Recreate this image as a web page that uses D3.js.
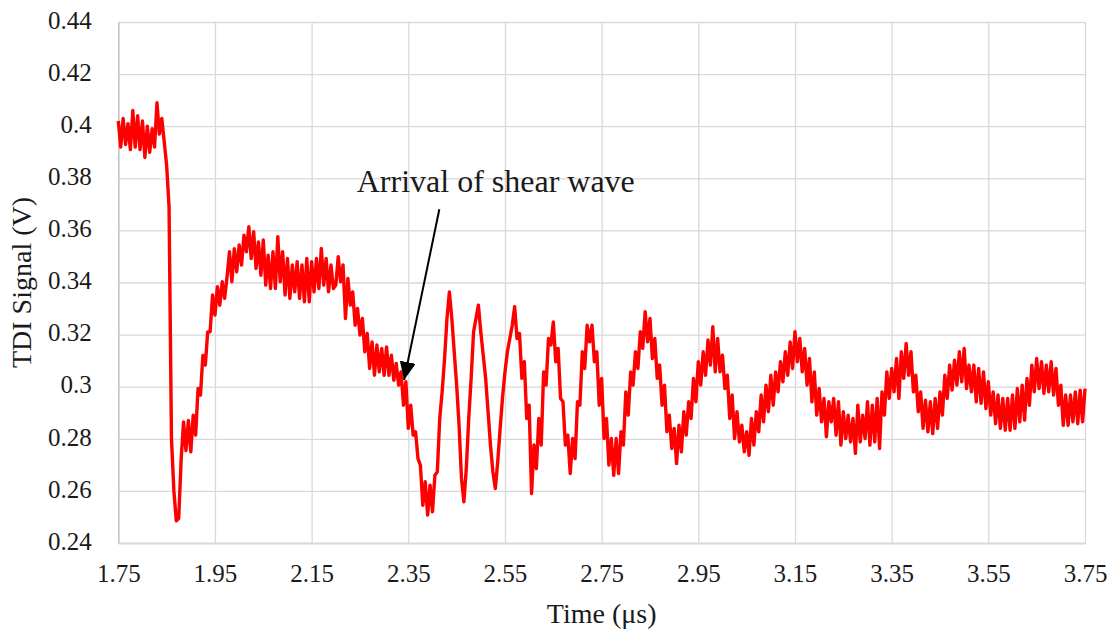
<!DOCTYPE html>
<html>
<head>
<meta charset="utf-8">
<script src="https://cdn.jsdelivr.net/npm/d3@7/dist/d3.min.js"></script>
</head>
<body style="margin:0">
<script>
// TDI signal vs time (every 0.005 us)
var timeUs = [
  1.750,1.755,1.760,1.765,1.770,1.775,1.780,1.785,1.790,1.795,
  1.800,1.805,1.810,1.815,1.820,1.825,1.830,1.835,1.840,1.845,
  1.850,1.855,1.860,1.865,1.870,1.875,1.880,1.885,1.890,1.895,
  1.900,1.905,1.910,1.915,1.920,1.925,1.930,1.935,1.940,1.945,
  1.950,1.955,1.960,1.965,1.970,1.975,1.980,1.985,1.990,1.995,
  2.000,2.005,2.010,2.015,2.020,2.025,2.030,2.035,2.040,2.045,
  2.050,2.055,2.060,2.065,2.070,2.075,2.080,2.085,2.090,2.095,
  2.100,2.105,2.110,2.115,2.120,2.125,2.130,2.135,2.140,2.145,
  2.150,2.155,2.160,2.165,2.170,2.175,2.180,2.185,2.190,2.195,
  2.200,2.205,2.210,2.215,2.220,2.225,2.230,2.235,2.240,2.245,
  2.250,2.255,2.260,2.265,2.270,2.275,2.280,2.285,2.290,2.295,
  2.300,2.305,2.310,2.315,2.320,2.325,2.330,2.335,2.340,2.345,
  2.350,2.355,2.360,2.365,2.370,2.375,2.380,2.385,2.390,2.395,
  2.400,2.405,2.410,2.415,2.420,2.425,2.430,2.435,2.440,2.445,
  2.450,2.455,2.460,2.465,2.470,2.475,2.480,2.485,2.490,2.495,
  2.500,2.505,2.510,2.515,2.520,2.525,2.530,2.535,2.540,2.545,
  2.550,2.555,2.560,2.565,2.570,2.575,2.580,2.585,2.590,2.595,
  2.600,2.605,2.610,2.615,2.620,2.625,2.630,2.635,2.640,2.645,
  2.650,2.655,2.660,2.665,2.670,2.675,2.680,2.685,2.690,2.695,
  2.700,2.705,2.710,2.715,2.720,2.725,2.730,2.735,2.740,2.745,
  2.750,2.755,2.760,2.765,2.770,2.775,2.780,2.785,2.790,2.795,
  2.800,2.805,2.810,2.815,2.820,2.825,2.830,2.835,2.840,2.845,
  2.850,2.855,2.860,2.865,2.870,2.875,2.880,2.885,2.890,2.895,
  2.900,2.905,2.910,2.915,2.920,2.925,2.930,2.935,2.940,2.945,
  2.950,2.955,2.960,2.965,2.970,2.975,2.980,2.985,2.990,2.995,
  3.000,3.005,3.010,3.015,3.020,3.025,3.030,3.035,3.040,3.045,
  3.050,3.055,3.060,3.065,3.070,3.075,3.080,3.085,3.090,3.095,
  3.100,3.105,3.110,3.115,3.120,3.125,3.130,3.135,3.140,3.145,
  3.150,3.155,3.160,3.165,3.170,3.175,3.180,3.185,3.190,3.195,
  3.200,3.205,3.210,3.215,3.220,3.225,3.230,3.235,3.240,3.245,
  3.250,3.255,3.260,3.265,3.270,3.275,3.280,3.285,3.290,3.295,
  3.300,3.305,3.310,3.315,3.320,3.325,3.330,3.335,3.340,3.345,
  3.350,3.355,3.360,3.365,3.370,3.375,3.380,3.385,3.390,3.395,
  3.400,3.405,3.410,3.415,3.420,3.425,3.430,3.435,3.440,3.445,
  3.450,3.455,3.460,3.465,3.470,3.475,3.480,3.485,3.490,3.495,
  3.500,3.505,3.510,3.515,3.520,3.525,3.530,3.535,3.540,3.545,
  3.550,3.555,3.560,3.565,3.570,3.575,3.580,3.585,3.590,3.595,
  3.600,3.605,3.610,3.615,3.620,3.625,3.630,3.635,3.640,3.645,
  3.650,3.655,3.660,3.665,3.670,3.675,3.680,3.685,3.690,3.695,
  3.700,3.705,3.710,3.715,3.720,3.725,3.730,3.735,3.740,3.745,
  3.750
];

var signalV = [
  0.4020,0.3920,0.4030,0.3930,0.4010,0.3910,0.4060,0.3920,0.4040,0.3910,
  0.4020,0.3880,0.4000,0.3900,0.3990,0.3920,0.4090,0.3970,0.4030,0.3940,
  0.3850,0.3690,0.2800,0.2600,0.2485,0.2495,0.2720,0.2865,0.2755,0.2870,
  0.2750,0.2891,0.2814,0.2993,0.2968,0.3120,0.3083,0.3210,0.3211,0.3352,
  0.3275,0.3384,0.3313,0.3403,0.3339,0.3422,0.3518,0.3403,0.3530,0.3441,
  0.3544,0.3467,0.3582,0.3518,0.3614,0.3492,0.3595,0.3454,0.3556,0.3428,
  0.3563,0.3390,0.3505,0.3377,0.3518,0.3377,0.3576,0.3403,0.3518,0.3352,
  0.3492,0.3339,0.3467,0.3364,0.3480,0.3339,0.3467,0.3326,0.3492,0.3326,
  0.3480,0.3364,0.3492,0.3377,0.3531,0.3390,0.3492,0.3364,0.3467,0.3377,
  0.3390,0.3499,0.3403,0.3467,0.3262,0.3416,0.3313,0.3364,0.3236,0.3300,
  0.3198,0.3262,0.3134,0.3204,0.3070,0.3172,0.3044,0.3160,0.3057,0.3147,
  0.3044,0.3153,0.3044,0.3121,0.3025,0.3089,0.3006,0.3057,0.2929,0.3019,
  0.2840,0.2929,0.2814,0.2827,0.2724,0.2699,0.2545,0.2635,0.2507,0.2622,
  0.2520,0.2660,0.2673,0.2878,0.2980,0.3108,0.3262,0.3364,0.3262,0.3134,
  0.3006,0.2852,0.2648,0.2558,0.2686,0.2878,0.3032,0.3210,0.3262,0.3313,
  0.3210,0.3121,0.3032,0.2904,0.2776,0.2673,0.2609,0.2712,0.2840,0.2960,
  0.3057,0.3134,0.3185,0.3236,0.3307,0.3185,0.3204,0.3032,0.3096,0.2878,
  0.2929,0.2590,0.2776,0.2686,0.2878,0.2776,0.3057,0.3006,0.3185,0.3160,
  0.3249,0.3096,0.3147,0.2955,0.2942,0.2776,0.2814,0.2667,0.2801,0.2724,
  0.2942,0.2929,0.3134,0.3070,0.3236,0.3172,0.3236,0.3096,0.3134,0.2929,
  0.3032,0.2801,0.2878,0.2699,0.2801,0.2660,0.2801,0.2667,0.2827,0.2776,
  0.2980,0.2891,0.3057,0.3006,0.3134,0.3070,0.3211,0.3147,0.3288,0.3172,
  0.3262,0.3108,0.3185,0.3032,0.3083,0.2929,0.3006,0.2827,0.2891,0.2763,
  0.2840,0.2705,0.2852,0.2750,0.2904,0.2814,0.2942,0.2878,0.3032,0.2942,
  0.3096,0.3006,0.3134,0.3044,0.3179,0.3083,0.3230,0.3057,0.3185,0.3057,
  0.3121,0.2993,0.3044,0.2878,0.2968,0.2801,0.2904,0.2788,0.2852,0.2750,
  0.2827,0.2737,0.2878,0.2776,0.2904,0.2827,0.2968,0.2865,0.3006,0.2904,
  0.3044,0.2929,0.3057,0.2980,0.3096,0.3019,0.3134,0.3044,0.3172,0.3070,
  0.3211,0.3096,0.3185,0.3057,0.3147,0.3006,0.3108,0.2942,0.3057,0.2891,
  0.2993,0.2865,0.2955,0.2808,0.2942,0.2865,0.2955,0.2814,0.2942,0.2776,
  0.2904,0.2801,0.2891,0.2788,0.2878,0.2744,0.2929,0.2788,0.2891,0.2801,
  0.2942,0.2776,0.2929,0.2788,0.2955,0.2763,0.2980,0.2891,0.3057,0.2955,
  0.3070,0.2980,0.3108,0.2955,0.3134,0.3032,0.3166,0.3044,0.3134,0.2980,
  0.3044,0.2904,0.2980,0.2840,0.2948,0.2827,0.2942,0.2820,0.2955,0.2840,
  0.2980,0.2891,0.3044,0.2955,0.3083,0.2987,0.3102,0.3006,0.3134,0.3019,
  0.3147,0.2993,0.3083,0.2980,0.3083,0.2942,0.3070,0.2936,0.3057,0.2916,
  0.3019,0.2891,0.2980,0.2858,0.2968,0.2840,0.2955,0.2833,0.2955,0.2833,
  0.2968,0.2840,0.2993,0.2865,0.3006,0.2872,0.3032,0.2929,0.3083,0.2980,
  0.3108,0.2993,0.3096,0.2974,0.3083,0.2980,0.3096,0.2968,0.3070,0.2929,
  0.3006,0.2852,0.2968,0.2852,0.2968,0.2865,0.2980,0.2858,0.2987,0.2865,
  0.2993
];

var xTickValues = [1.75, 1.95, 2.15, 2.35, 2.55, 2.75, 2.95, 3.15, 3.35, 3.55, 3.75];
var xTickLabels = ["1.75", "1.95", "2.15", "2.35", "2.55", "2.75", "2.95", "3.15", "3.35", "3.55", "3.75"];
var yTickValues = [0.24, 0.26, 0.28, 0.30, 0.32, 0.34, 0.36, 0.38, 0.40, 0.42, 0.44];
var yTickLabels = ["0.24", "0.26", "0.28", "0.3", "0.32", "0.34", "0.36", "0.38", "0.4", "0.42", "0.44"];

var xTitle = "Time (\u03bcs)";
var yTitle = "TDI Signal (V)";
var noteText = "Arrival of shear wave";
var noteAt = [2.2433, 0.3749];   // text baseline start
var arrowFrom = [2.4142, 0.3681];
var arrowTo = [2.3412, 0.3026];

var textColor = "#1a1a1a";

var width = 1114,
    height = 632,
    margin = {left: 118.3, top: 22, right: 29, bottom: 89},
    plotW = width - margin.left - margin.right,
    plotH = height - margin.top - margin.bottom;

var x = d3.scaleLinear().domain([1.75, 3.75]).range([0, plotW]);
var y = d3.scaleLinear().domain([0.24, 0.44]).range([plotH, 0]);

var svg = d3.select("body")
    .append("svg")
    .attr("width", width)
    .attr("height", height)
    .style("font-family", "'Liberation Serif'");

var chart = svg.append("g")
    .attr("transform", "translate(" + margin.left + "," + margin.top + ")");

var gridColor = "#d9d9d9",
    axisColor = "#bfbfbf";

// x axis + vertical grid
var x_axis = chart.append("g")
    .attr("transform", "translate(0," + plotH + ")")
    .call(d3.axisBottom(x)
        .tickValues(xTickValues)
        .tickFormat(function (d, i) { return xTickLabels[i]; })
        .tickSize(-plotH)
        .tickSizeOuter(0))
    .attr("font-family", null)
    .attr("font-size", null);

x_axis.selectAll(".tick line").attr("stroke", gridColor).attr("stroke-width", 1.3);
x_axis.select(".domain").attr("stroke", axisColor).attr("stroke-width", 1.3);
x_axis.selectAll("text")
    .attr("y", 39)
    .attr("dy", 0)
    .attr("fill", textColor)
    .style("font-family", "'Liberation Serif'")
    .style("font-size", "25px");

// y axis + horizontal grid
var y_axis = chart.append("g")
    .call(d3.axisLeft(y)
        .tickValues(yTickValues)
        .tickFormat(function (d, i) { return yTickLabels[i]; })
        .tickSize(-plotW)
        .tickSizeOuter(0))
    .attr("font-family", null)
    .attr("font-size", null);

y_axis.selectAll(".tick line").attr("stroke", gridColor).attr("stroke-width", 1.3);
y_axis.select(".domain").attr("stroke", axisColor).attr("stroke-width", 1.3);
y_axis.selectAll("text")
    .attr("x", -26.6)
    .attr("dy", "0.25em")
    .attr("fill", textColor)
    .style("font-family", "'Liberation Serif'")
    .style("font-size", "25px");

x_axis.select(".domain").raise();
y_axis.select(".domain").raise();

// axis titles
chart.append("text")
    .attr("x", plotW / 2)
    .attr("y", plotH + 80)
    .attr("text-anchor", "middle")
    .attr("fill", textColor)
    .style("font-family", "'Liberation Serif'")
    .style("font-size", "28px")
    .text(xTitle);

chart.append("text")
    .attr("transform", "translate(" + (31 - margin.left) + "," + (plotH / 2) + ") rotate(-90)")
    .attr("text-anchor", "middle")
    .attr("fill", textColor)
    .style("font-family", "'Liberation Serif'")
    .style("font-size", "28px")
    .text(yTitle);

// signal trace
var line = d3.line()
    .x(function (d, i) { return x(timeUs[i]); })
    .y(function (d) { return y(d); });

chart.append("path")
    .datum(signalV)
    .attr("d", line)
    .attr("fill", "none")
    .attr("stroke", "#ff0000")
    .attr("stroke-width", 3.4)
    .attr("stroke-linejoin", "round");

// annotation
svg.append("defs").append("marker")
    .attr("id", "head")
    .attr("markerUnits", "userSpaceOnUse")
    .attr("viewBox", "0 0 18 16")
    .attr("refX", 18)
    .attr("refY", 8)
    .attr("markerWidth", 18)
    .attr("markerHeight", 16)
    .attr("orient", "auto")
    .append("path")
    .attr("d", "M0,0 L18,8 L0,16 Z")
    .attr("fill", "#000");

chart.append("line")
    .attr("x1", x(arrowFrom[0]))
    .attr("y1", y(arrowFrom[1]))
    .attr("x2", x(arrowTo[0]))
    .attr("y2", y(arrowTo[1]))
    .attr("stroke", "#000")
    .attr("stroke-width", 2)
    .attr("marker-end", "url(#head)");

chart.append("text")
    .attr("x", x(noteAt[0]))
    .attr("y", y(noteAt[1]))
    .attr("fill", textColor)
    .style("font-family", "'Liberation Serif'")
    .style("font-size", "32px")
    .text(noteText);
</script>
</body>
</html>
